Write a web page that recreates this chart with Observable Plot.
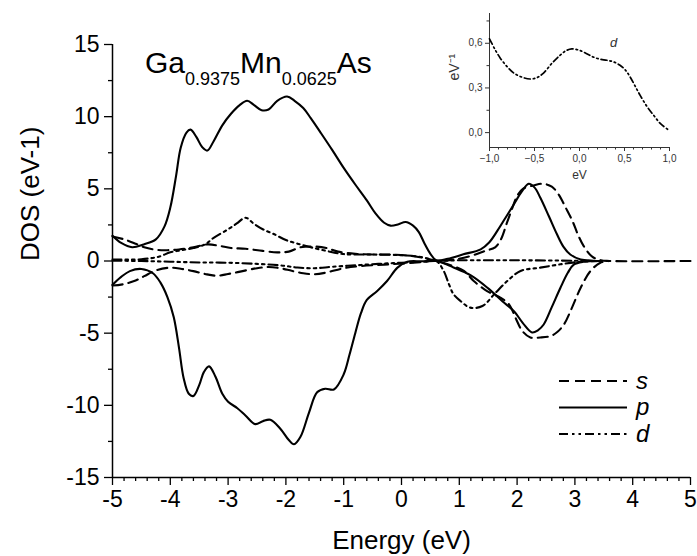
<!DOCTYPE html>
<html><head><meta charset="utf-8">
<script src="https://cdn.jsdelivr.net/npm/d3@7"></script>
<script src="https://cdn.jsdelivr.net/npm/@observablehq/plot@0.6"></script>
<style>
body{margin:0;background:#fff;}
#wrap{position:relative;width:697px;height:556px;font-family:"Liberation Sans",Arial,sans-serif;}
#inset{position:absolute;left:420px;top:0;}
</style></head><body><div id="wrap"><div id="main"></div><div id="inset"></div></div>
<script>
const xTicks = [-5,-4,-3,-2,-1,0,1,2,3,4,5];
const yTicks = [-15,-10,-5,0,5,10,15];
const insetXTicks = [-1,-0.5,0,0.5,1];
const insetYTicks = [0,0.3,0.6];
const seriesNames = ["s","p","d"];

const pUp = [[-5.0,1.75],[-4.85,1.25],[-4.66,0.95],[-4.46,1.15],[-4.25,1.5],[-4.1,2.4],[-4.0,3.7],[-3.9,5.9],[-3.82,7.85],[-3.72,8.9],[-3.65,9.1],[-3.55,8.6],[-3.45,7.9],[-3.36,7.65],[-3.25,8.3],[-3.1,9.4],[-2.95,10.2],[-2.8,10.8],[-2.67,11.1],[-2.55,10.8],[-2.42,10.45],[-2.3,10.5],[-2.15,11.1],[-1.98,11.4],[-1.85,11.1],[-1.7,10.6],[-1.57,9.9],[-1.4,8.9],[-1.2,7.7],[-1.0,6.45],[-0.8,5.3],[-0.6,4.2],[-0.45,3.3],[-0.3,2.65],[-0.19,2.45],[-0.05,2.55],[0.07,2.7],[0.2,2.45],[0.3,2.0],[0.4,1.2],[0.5,0.5],[0.6,0.05],[0.8,0.15],[1.07,0.46],[1.37,0.81],[1.52,1.3],[1.66,2.1],[1.8,3.0],[1.94,3.9],[2.08,4.8],[2.2,5.35],[2.3,5.1],[2.4,4.4],[2.55,3.1],[2.69,1.85],[2.8,1.0],[2.92,0.45],[3.1,0.1],[3.3,0.02],[3.45,0]];
const pDown = [[-5.0,-1.65],[-4.85,-1.1],[-4.7,-0.7],[-4.5,-0.55],[-4.3,-0.85],[-4.17,-1.5],[-4.05,-2.5],[-3.94,-3.9],[-3.85,-6.0],[-3.77,-8.1],[-3.68,-9.2],[-3.6,-9.35],[-3.5,-8.6],[-3.42,-7.7],[-3.33,-7.3],[-3.22,-8.0],[-3.1,-9.2],[-3.0,-9.75],[-2.84,-10.2],[-2.7,-10.7],[-2.53,-11.3],[-2.4,-11.1],[-2.27,-11.0],[-2.1,-11.6],[-1.95,-12.4],[-1.86,-12.7],[-1.75,-12.2],[-1.6,-10.5],[-1.46,-9.1],[-1.32,-8.85],[-1.17,-8.9],[-1.0,-7.85],[-0.9,-6.5],[-0.8,-5.0],[-0.7,-3.6],[-0.6,-2.7],[-0.42,-2.08],[-0.25,-1.39],[-0.07,-0.46],[0.1,-0.05],[0.35,-0.02],[0.6,0],[0.9,-0.45],[1.2,-1.0],[1.5,-1.9],[1.75,-2.8],[1.95,-3.5],[2.1,-4.3],[2.26,-4.95],[2.36,-4.8],[2.46,-4.4],[2.6,-3.2],[2.75,-1.85],[2.88,-0.8],[2.98,-0.25],[3.15,-0.05],[3.45,0]];
const sUp = [[-5.0,1.7],[-4.8,1.5],[-4.6,1.2],[-4.45,0.95],[-4.25,0.78],[-4.05,0.75],[-3.85,0.8],[-3.6,0.95],[-3.35,1.15],[-3.15,1.05],[-2.95,0.9],[-2.7,0.85],[-2.4,0.7],[-2.15,0.6],[-1.95,0.65],[-1.75,0.95],[-1.5,1.0],[-1.3,0.9],[-1.1,0.65],[-0.8,0.5],[-0.5,0.45],[-0.2,0.45],[0.1,0.38],[0.35,0.25],[0.6,0.02],[0.9,0.1],[1.2,0.35],[1.45,0.7],[1.62,0.95],[1.72,1.5],[1.82,2.6],[1.92,3.7],[2.0,4.5],[2.1,5.0],[2.3,5.25],[2.45,5.35],[2.6,5.15],[2.72,4.6],[2.84,3.7],[2.96,2.75],[3.05,1.85],[3.15,1.05],[3.3,0.3],[3.45,0.05],[3.6,0],[5,0]];
const sDown = [[-5.0,-1.7],[-4.8,-1.6],[-4.6,-1.35],[-4.45,-1.05],[-4.25,-0.65],[-4.0,-0.46],[-3.8,-0.55],[-3.6,-0.7],[-3.4,-0.9],[-3.2,-1.02],[-3.0,-0.9],[-2.75,-0.7],[-2.5,-0.5],[-2.3,-0.42],[-2.1,-0.5],[-1.9,-0.68],[-1.7,-0.85],[-1.5,-0.92],[-1.3,-0.8],[-1.0,-0.5],[-0.7,-0.35],[-0.3,-0.25],[0.1,-0.15],[0.4,-0.05],[0.6,0],[0.85,-0.3],[1.08,-0.69],[1.25,-1.39],[1.48,-2.08],[1.71,-2.54],[1.86,-3.0],[1.98,-4.0],[2.09,-4.85],[2.23,-5.3],[2.4,-5.3],[2.58,-5.2],[2.7,-4.9],[2.81,-4.4],[2.95,-3.23],[3.1,-1.85],[3.27,-0.69],[3.44,-0.12],[3.6,0]];
const dUp = [[-5.0,0.1],[-4.5,0.12],[-4.2,0.3],[-4.0,0.6],[-3.8,0.75],[-3.6,0.9],[-3.4,1.15],[-3.25,1.6],[-3.0,2.2],[-2.85,2.6],[-2.7,3.0],[-2.56,2.6],[-2.4,2.2],[-2.2,1.85],[-2.0,1.45],[-1.8,1.2],[-1.57,0.95],[-1.3,0.7],[-1.0,0.48],[-0.5,0.45],[0.0,0.4],[0.3,0.3],[0.5,0.12],[0.6,0.02],[1.0,0.05],[2.0,0.05],[3.0,0.02],[3.45,0]];
const dDown = [[-5.0,0.02],[-4.5,0.0],[-4.0,-0.05],[-3.5,-0.1],[-3.0,-0.12],[-2.5,-0.2],[-2.1,-0.3],[-1.8,-0.45],[-1.5,-0.5],[-1.2,-0.4],[-0.8,-0.3],[-0.4,-0.2],[0.0,-0.12],[0.4,-0.05],[0.6,0],[0.73,-0.69],[0.82,-1.6],[0.9,-2.3],[1.02,-2.77],[1.19,-3.23],[1.4,-3.12],[1.63,-2.19],[1.83,-1.39],[2.06,-0.69],[2.4,-0.46],[2.75,-0.23],[3.1,-0.05],[3.45,0]];
const insetD = [[-1.0,0.63],[-0.94,0.56],[-0.88,0.5],[-0.8,0.44],[-0.73,0.4],[-0.65,0.375],[-0.55,0.36],[-0.47,0.37],[-0.4,0.4],[-0.3,0.47],[-0.215,0.52],[-0.15,0.55],[-0.085,0.562],[0.0,0.553],[0.08,0.53],[0.156,0.507],[0.23,0.493],[0.304,0.486],[0.38,0.475],[0.45,0.452],[0.51,0.42],[0.563,0.373],[0.62,0.31],[0.674,0.25],[0.75,0.175],[0.822,0.118],[0.9,0.06],[0.989,0.018]];

const FONT = "Liberation Sans, Arial, sans-serif";
const dashS = "10,6";
const dashD = "9,4,2.5,4,2.5,4";
const W = 2.1;
const xMinor = d3.range(-50, 51, 2).map(v => v / 10).filter(v => !xTicks.includes(v));
const yMinor = yTicks.slice(0, -1).map(v => v + 2.5);
const lineOpts = {x: "0", y: "1", curve: "catmull-rom", stroke: "black", strokeWidth: W};

const main = Plot.plot({
  width: 697, height: 556,
  marginLeft: 112, marginRight: 7, marginTop: 44, marginBottom: 79,
  x: {domain: [-5, 5]},
  y: {domain: [-15, 15]},
  style: {fontFamily: FONT, background: "white", color: "black", overflow: "visible"},
  marks: [
    Plot.axisX({ticks: xMinor, tickSize: 4, tickFormat: () => "", label: null, strokeWidth: 1.3}),
    Plot.axisX({ticks: xTicks, tickSize: 8, tickPadding: 5, fontSize: 23, tickFormat: d => String(d), label: null, strokeWidth: 1.3}),
    Plot.axisY({ticks: yMinor, tickSize: 4, tickFormat: () => "", label: null, strokeWidth: 1.3}),
    Plot.axisY({ticks: yTicks, tickSize: 8, tickPadding: 5, fontSize: 23, tickFormat: d => String(d), label: null, strokeWidth: 1.3}),
    Plot.ruleX([-5], {strokeWidth: 1.5}),
    Plot.ruleY([-15], {strokeWidth: 1.5}),
    Plot.line(dUp, {...lineOpts, strokeDasharray: dashD}),
    Plot.line(dDown, {...lineOpts, strokeDasharray: dashD}),
    Plot.line(sUp, {...lineOpts, strokeDasharray: dashS}),
    Plot.line(sDown, {...lineOpts, strokeDasharray: dashS}),
    Plot.line(pUp, lineOpts),
    Plot.line(pDown, lineOpts),
    Plot.text(["Energy (eV)"], {frameAnchor: "bottom", dy: 63, fontSize: 26, lineAnchor: "middle"}),
    Plot.text(["DOS (eV-1)"], {frameAnchor: "left", dx: -82, rotate: -90, fontSize: 26, lineAnchor: "middle"})
  ]
});
document.getElementById("main").appendChild(main);

// title with subscripts
const svg = d3.select(main);
const t = svg.append("text").attr("x", 145).attr("y", 73).attr("font-size", 30)
  .attr("font-family", FONT).attr("fill", "black").attr("text-anchor", "start");
t.append("tspan").text("Ga");
t.append("tspan").attr("font-size", 18).attr("dy", 12).text("0.9375");
t.append("tspan").attr("dy", -12).text("Mn");
t.append("tspan").attr("font-size", 18).attr("dy", 12).text("0.0625");
t.append("tspan").attr("dy", -12).text("As");

// legend
const dashes = {s: dashS, p: null, d: dashD};
const lg = svg.append("g").attr("text-anchor", "start");
seriesNames.forEach((n, i) => {
  const y = 381 + i * 26.5;
  lg.append("line").attr("x1", 559).attr("x2", 627).attr("y1", y).attr("y2", y)
    .attr("stroke", "black").attr("stroke-width", W).attr("stroke-dasharray", dashes[n]);
  lg.append("text").attr("x", 636).attr("y", y).attr("dy", "0.32em").attr("font-size", 24)
    .attr("font-style", "italic").attr("font-family", FONT).text(n);
});

// inset
const fmtComma = d => d3.format(".1f")(d).replace(".", ",");
const insetXMinor = d3.range(-10, 11, 1).map(v => v / 10).filter(v => !insetXTicks.includes(v));
const insetYMinor = [0.15, 0.45, 0.75];
const inset = Plot.plot({
  width: 277, height: 185,
  marginLeft: 69, marginRight: 28, marginTop: 13, marginBottom: 38,
  x: {domain: [-1, 1]},
  y: {domain: [-0.1, 0.8]},
  style: {fontFamily: FONT, background: "transparent", color: "#333", overflow: "visible"},
  marks: [
    Plot.axisX({ticks: insetXMinor, tickSize: 2.5, tickFormat: () => "", label: null}),
    Plot.axisX({ticks: insetXTicks, tickSize: 4, tickPadding: 3, fontSize: 10, tickFormat: fmtComma, label: null}),
    Plot.axisY({ticks: insetYMinor, tickSize: 2.5, tickFormat: () => "", label: null}),
    Plot.axisY({ticks: insetYTicks, tickSize: 4, tickPadding: 3, fontSize: 10, tickFormat: fmtComma, label: null}),
    Plot.ruleX([-1], {strokeWidth: 1}),
    Plot.ruleY([-0.1], {strokeWidth: 1}),
    Plot.line(insetD, {x: "0", y: "1", curve: "catmull-rom", stroke: "black", strokeWidth: 1.7, strokeDasharray: "6,3,1.5,3,1.5,3"}),
    Plot.text(["eV"], {frameAnchor: "bottom", dy: 28, fontSize: 12, lineAnchor: "middle"}),
    Plot.text(["eV\u207B\u00B9"], {frameAnchor: "left", dx: -35, rotate: -90, fontSize: 14, lineAnchor: "middle"}),
    Plot.text(["d"], {frameAnchor: "top", dx: 34, dy: 29, fontSize: 13, fontStyle: "italic", lineAnchor: "middle"})
  ]
});
document.getElementById("inset").appendChild(inset);
</script>
</body></html>
